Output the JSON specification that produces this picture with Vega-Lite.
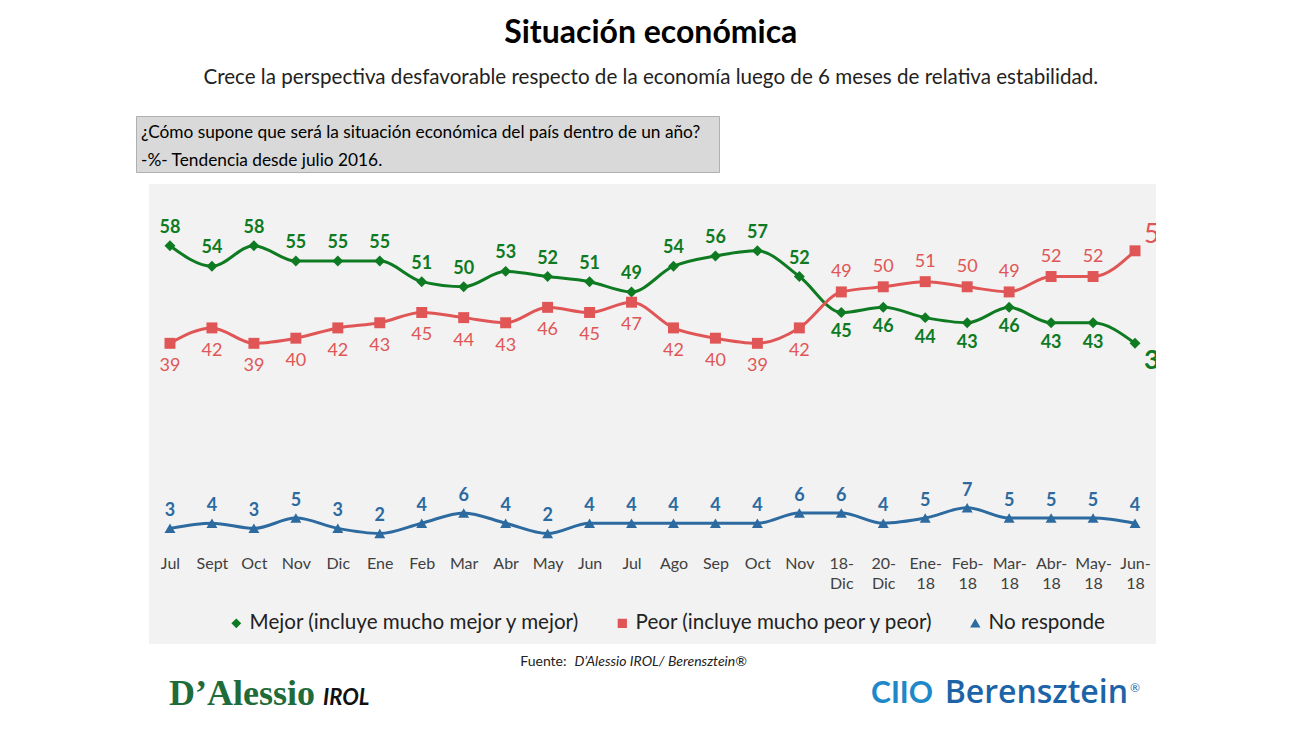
{
  "$schema": "https://vega.github.io/schema/vega-lite/v6.json",
  "background": "white",
  "padding": {"left": 135, "top": 16, "right": 0, "bottom": 0},
  "autosize": {"type": "pad"},
  "config": {"font": "Lato", "view": {"stroke": null}},
  "title": {
    "text": "Situación económica",
    "subtitle": "Crece la perspectiva desfavorable respecto de la economía luego de 6 meses de relativa estabilidad.",
    "anchor": "middle",
    "frame": "bounds",
    "dx": 5,
    "fontSize": 32,
    "fontWeight": "bold",
    "color": "#000000",
    "subtitleFontSize": 20.6,
    "subtitleColor": "#222222",
    "subtitlePadding": 18,
    "offset": 26
  },
  "datasets": {
    "encuesta": [
      {"mes": "Jul 2016", "Mejor": 58, "Peor": 39, "NR": 3},
      {"mes": "Sept 2016", "Mejor": 54, "Peor": 42, "NR": 4},
      {"mes": "Oct 2016", "Mejor": 58, "Peor": 39, "NR": 3},
      {"mes": "Nov 2016", "Mejor": 55, "Peor": 40, "NR": 5},
      {"mes": "Dic 2016", "Mejor": 55, "Peor": 42, "NR": 3},
      {"mes": "Ene 2017", "Mejor": 55, "Peor": 43, "NR": 2},
      {"mes": "Feb 2017", "Mejor": 51, "Peor": 45, "NR": 4},
      {"mes": "Mar 2017", "Mejor": 50, "Peor": 44, "NR": 6},
      {"mes": "Abr 2017", "Mejor": 53, "Peor": 43, "NR": 4},
      {"mes": "May 2017", "Mejor": 52, "Peor": 46, "NR": 2},
      {"mes": "Jun 2017", "Mejor": 51, "Peor": 45, "NR": 4},
      {"mes": "Jul 2017", "Mejor": 49, "Peor": 47, "NR": 4},
      {"mes": "Ago 2017", "Mejor": 54, "Peor": 42, "NR": 4},
      {"mes": "Sep 2017", "Mejor": 56, "Peor": 40, "NR": 4},
      {"mes": "Oct 2017", "Mejor": 57, "Peor": 39, "NR": 4},
      {"mes": "Nov 2017", "Mejor": 52, "Peor": 42, "NR": 6},
      {"mes": "18-Dic 2017", "Mejor": 45, "Peor": 49, "NR": 6},
      {"mes": "20-Dic 2017", "Mejor": 46, "Peor": 50, "NR": 4},
      {"mes": "Ene-18", "Mejor": 44, "Peor": 51, "NR": 5},
      {"mes": "Feb-18", "Mejor": 43, "Peor": 50, "NR": 7},
      {"mes": "Mar-18", "Mejor": 46, "Peor": 49, "NR": 5},
      {"mes": "Abr-18", "Mejor": 43, "Peor": 52, "NR": 5},
      {"mes": "May-18", "Mejor": 43, "Peor": 52, "NR": 5},
      {"mes": "Jun-18", "Mejor": 39, "Peor": 57, "NR": 4}
    ]
  },
  "spacing": 11,
  "vconcat": [
    {
      "width": 583,
      "height": 56,
      "view": {"fill": "#D9D9D9", "stroke": "#B0B0B0", "strokeWidth": 1},
      "data": {"values": [
        {"linea": 1, "texto": "¿Cómo supone que será la situación económica del país dentro de un año?"},
        {"linea": 2, "texto": "-%- Tendencia desde julio 2016."}
      ]},
      "mark": {"type": "text", "align": "left", "baseline": "middle", "fontSize": 17.3, "color": "#000000", "dx": 5, "dy": 3},
      "encoding": {
        "x": {"datum": 0, "type": "quantitative", "scale": {"domain": [0, 1]}, "axis": null},
        "y": {"field": "linea", "type": "ordinal", "axis": null, "scale": {"paddingInner": 0, "paddingOuter": 0}},
        "text": {"field": "texto"}
      }
    },
    {
      "spacing": 0,
      "hconcat": [
        {
          "width": 13,
          "height": 460,
          "data": {"values": []},
          "mark": {"type": "text"},
          "encoding": {}
        },
        {
          "width": 1007,
          "height": 460,
          "view": {"fill": "#F2F2F2", "stroke": null},
          "data": {"name": "encuesta"},
          "encoding": {
            "x": {
              "field": "mes",
              "type": "ordinal",
              "scale": {
                "type": "point",
                "padding": 0.5,
                "domain": ["Jul 2016", "Sept 2016", "Oct 2016", "Nov 2016", "Dic 2016", "Ene 2017", "Feb 2017", "Mar 2017", "Abr 2017", "May 2017", "Jun 2017", "Jul 2017", "Ago 2017", "Sep 2017", "Oct 2017", "Nov 2017", "18-Dic 2017", "20-Dic 2017", "Ene-18", "Feb-18", "Mar-18", "Abr-18", "May-18", "Jun-18"]
              },
              "axis": {
                "title": null,
                "domain": false,
                "ticks": false,
                "grid": false,
                "offset": -90,
                "labelAngle": 0,
                "labelFontSize": 16,
                "labelColor": "#404040",
                "labelPadding": 1,
                "labelBaseline": "top",
                "labelLineHeight": 20,
                "labelOverlap": false,
                "labelExpr": "split(replace(split(datum.value, ' ')[0], '-', '-|'), '|')"
              }
            }
          },
          "layer": [
            {
              "transform": [{"fold": ["Mejor", "Peor", "NR"], "as": ["serie", "valor"]}],
              "mark": {"type": "line", "interpolate": "monotone", "strokeWidth": 3},
              "encoding": {
                "y": {"field": "valor", "type": "quantitative", "scale": {"domain": [-19.5, 70], "nice": false, "zero": false}, "axis": null},
                "color": {
                  "field": "serie", "type": "nominal",
                  "scale": {"domain": ["Mejor", "Peor", "NR"], "range": ["#0E7A22", "#E05656", "#2C6AA0"]},
                  "legend": {
                    "orient": "none", "legendX": 90, "legendY": 497, "direction": "horizontal", "title": null,
                    "labelFontSize": 20.6, "labelColor": "#222222", "labelLimit": 0, "symbolSize": 60, "columnPadding": 31, "labelOffset": 3,
                    "labelExpr": "datum.label == 'Mejor' ? 'Mejor (incluye mucho mejor y mejor)' : datum.label == 'Peor' ? 'Peor (incluye mucho peor y peor)' : 'No responde'"
                  }
                }
              }
            },
            {
              "transform": [{"fold": ["Mejor", "Peor", "NR"], "as": ["serie", "valor"]}],
              "mark": {"type": "point", "filled": true, "opacity": 1, "size": 120},
              "encoding": {
                "y": {"field": "valor", "type": "quantitative"},
                "color": {
                  "field": "serie", "type": "nominal",
                  "legend": {
                    "orient": "none", "legendX": 90, "legendY": 497, "direction": "horizontal", "title": null,
                    "labelFontSize": 20.6, "labelColor": "#222222", "labelLimit": 0, "symbolSize": 60, "columnPadding": 31, "labelOffset": 3,
                    "labelExpr": "datum.label == 'Mejor' ? 'Mejor (incluye mucho mejor y mejor)' : datum.label == 'Peor' ? 'Peor (incluye mucho peor y peor)' : 'No responde'"
                  }
                },
                "shape": {
                  "field": "serie", "type": "nominal",
                  "scale": {"domain": ["Mejor", "Peor", "NR"], "range": ["diamond", "square", "triangle-up"]},
                  "legend": {
                    "orient": "none", "legendX": 90, "legendY": 497, "direction": "horizontal", "title": null,
                    "labelFontSize": 20.6, "labelColor": "#222222", "labelLimit": 0, "symbolSize": 60, "columnPadding": 31, "labelOffset": 3,
                    "labelExpr": "datum.label == 'Mejor' ? 'Mejor (incluye mucho mejor y mejor)' : datum.label == 'Peor' ? 'Peor (incluye mucho peor y peor)' : 'No responde'"
                  }
                }
              }
            },
            {
              "transform": [{"filter": "datum.Mejor > datum.Peor && datum.mes != 'Jun-18'"}],
              "mark": {"type": "text", "fontSize": 18, "fontWeight": "bold", "color": "#0E7A22", "baseline": "middle", "dy": -18},
              "encoding": {"y": {"field": "Mejor", "type": "quantitative"}, "text": {"field": "Mejor"}}
            },
            {
              "transform": [{"filter": "datum.Mejor <= datum.Peor && datum.mes != 'Jun-18'"}],
              "mark": {"type": "text", "fontSize": 18, "fontWeight": "bold", "color": "#0E7A22", "baseline": "middle", "dy": 20},
              "encoding": {"y": {"field": "Mejor", "type": "quantitative"}, "text": {"field": "Mejor"}}
            },
            {
              "transform": [{"filter": "datum.Peor > datum.Mejor && datum.mes != 'Jun-18'"}],
              "mark": {"type": "text", "fontSize": 18, "color": "#E05656", "baseline": "middle", "dy": -20},
              "encoding": {"y": {"field": "Peor", "type": "quantitative"}, "text": {"field": "Peor"}}
            },
            {
              "transform": [{"filter": "datum.Peor <= datum.Mejor && datum.mes != 'Jun-18'"}],
              "mark": {"type": "text", "fontSize": 18, "color": "#E05656", "baseline": "middle", "dy": 23},
              "encoding": {"y": {"field": "Peor", "type": "quantitative"}, "text": {"field": "Peor"}}
            },
            {
              "mark": {"type": "text", "fontSize": 18, "fontWeight": "bold", "color": "#2C6AA0", "baseline": "middle", "dy": -17},
              "encoding": {"y": {"field": "NR", "type": "quantitative"}, "text": {"field": "NR"}}
            },
            {
              "transform": [{"filter": "datum.mes == 'Jun-18'"}],
              "mark": {"type": "text", "fontSize": 27, "color": "#E05656", "align": "left", "baseline": "middle", "dx": 9, "dy": -16, "clip": true},
              "encoding": {"y": {"field": "Peor", "type": "quantitative"}, "text": {"field": "Peor"}}
            },
            {
              "transform": [{"filter": "datum.mes == 'Jun-18'"}],
              "mark": {"type": "text", "fontSize": 27, "fontWeight": "bold", "color": "#0E7A22", "align": "left", "baseline": "middle", "dx": 9, "dy": 18, "clip": true},
              "encoding": {"y": {"field": "Mejor", "type": "quantitative"}, "text": {"field": "Mejor"}}
            }
          ]
        }
      ]
    },
    {
      "spacing": 0,
      "hconcat": [
        {
          "width": 13,
          "height": 60,
          "data": {"values": []},
          "mark": {"type": "text"},
          "encoding": {}
        },
        {
          "width": 1007,
          "height": 60,
          "view": {"stroke": null},
          "encoding": {
            "x": {"field": "ancla", "type": "nominal", "scale": {"type": "point", "domain": ["izq", "centro", "der"], "padding": 0}, "axis": null},
            "y": {"field": "fila", "type": "nominal", "scale": {"type": "point", "domain": ["fuente", "logos"], "padding": 0.5}, "axis": null},
            "text": {"field": "texto"}
          },
          "layer": [
            {
              "data": {"values": [{"ancla": "centro", "fila": "fuente", "texto": "Fuente:"}]},
              "mark": {"type": "text", "align": "right", "baseline": "middle", "fontSize": 14, "color": "#222222", "dx": -86, "dy": -9}
            },
            {
              "data": {"values": [{"ancla": "centro", "fila": "fuente", "texto": "D’Alessio IROL/ Berensztein®"}]},
              "mark": {"type": "text", "align": "left", "baseline": "middle", "fontSize": 14, "fontStyle": "italic", "color": "#222222", "dx": -78, "dy": -9}
            },
            {
              "data": {"values": [{"ancla": "izq", "fila": "logos", "texto": "D’Alessio"}]},
              "mark": {"type": "text", "align": "left", "baseline": "alphabetic", "font": "Liberation Serif", "fontSize": 36, "fontWeight": "bold", "color": "#1F6B3A", "dx": 20, "dy": 4}
            },
            {
              "data": {"values": [{"ancla": "izq", "fila": "logos", "texto": "IROL"}]},
              "mark": {"type": "text", "align": "left", "baseline": "alphabetic", "fontSize": 22, "fontWeight": "bold", "fontStyle": "italic", "color": "#111111", "dx": 174, "dy": 4}
            },
            {
              "data": {"values": [{"ancla": "der", "fila": "logos", "texto": "CIIO"}]},
              "mark": {"type": "text", "align": "right", "baseline": "alphabetic", "fontSize": 30, "fontWeight": "bold", "color": "#1E88C8", "dx": -223, "dy": 2}
            },
            {
              "data": {"values": [{"ancla": "der", "fila": "logos", "texto": "Berensztein"}]},
              "mark": {"type": "text", "align": "right", "baseline": "alphabetic", "font": "Open Sans", "fontSize": 32, "fontWeight": 600, "color": "#1D63A8", "dx": -28, "dy": 2}
            },
            {
              "data": {"values": [{"ancla": "der", "fila": "logos", "texto": "®"}]},
              "mark": {"type": "text", "align": "left", "baseline": "alphabetic", "fontSize": 12, "color": "#1D63A8", "dx": -26, "dy": -9}
            }
          ]
        }
      ]
    }
  ]
}
